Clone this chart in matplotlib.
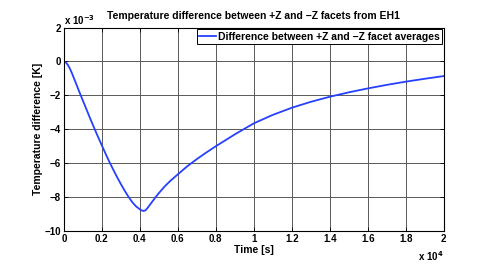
import matplotlib.pyplot as plt
import numpy as np

# time in seconds, temperature difference in kelvin
time_s = [0, 100, 200, 300, 400, 500, 600, 800, 1000, 1200, 1400, 1600,
          1800, 2000, 2200, 2400, 2600, 2800, 3000, 3200, 3400, 3600, 3800,
          4000, 4100, 4200, 4300, 4400, 4600, 4800, 5000, 5300, 5600, 6000,
          6500, 7000, 7500, 8000, 9000, 10000, 11000, 12000, 13000, 14000,
          15000, 16000, 17000, 18000, 19000, 20000]
diff_K = [0.0, -0.00005, -0.00018, -0.00038, -0.00062, -0.0009, -0.00118,
          -0.00175, -0.0023, -0.00285, -0.0034, -0.00393, -0.00445,
          -0.00495, -0.00545, -0.00593, -0.00638, -0.00682, -0.00723,
          -0.00762, -0.00798, -0.0083, -0.00855, -0.00872, -0.00879,
          -0.00882, -0.00878, -0.00865, -0.00835, -0.00805, -0.00777,
          -0.00738, -0.00705, -0.00666, -0.00618, -0.00576, -0.00537,
          -0.005, -0.0043, -0.00365, -0.00315, -0.00273, -0.00238, -0.00208,
          -0.00182, -0.00159, -0.00138, -0.00119, -0.00102, -0.00086]

xticks = [0, 0.2, 0.4, 0.6, 0.8, 1, 1.2, 1.4, 1.6, 1.8, 2]
yticks = [-10, -8, -6, -4, -2, 0, 2]

plt.rcParams['font.family'] = ['Liberation Sans', 'DejaVu Sans']
plt.rcParams['font.weight'] = 'bold'

fig = plt.figure(figsize=(4.91, 2.73), dpi=100)
ax = fig.add_axes([0.130, 0.154, 0.774, 0.745])

x = np.array(time_s) / 1e4
y = np.array(diff_K) * 1e3
ax.plot(x, y, color=(0.15, 0.25, 1.0), lw=1.3,
        label="Difference between +Z and \u2212Z facet averages")

ax.set_xlim(0, 2)
ax.set_ylim(-10, 2)
ax.set_xticks(xticks)
ax.set_xticklabels(["0", "0.2", "0.4", "0.6", "0.8", "1", "1.2", "1.4",
                    "1.6", "1.8", "2"])
ax.set_yticks(yticks)
ax.set_yticklabels(["\u221210", "\u22128", "\u22126", "\u22124", "\u22122",
                    "0", "2"])
ax.tick_params(direction='in', labelsize=7, length=3, width=0.6, pad=2,
               top=True, right=True)
ax.grid(True, color='0.35', lw=0.7)
for s in ax.spines.values():
    s.set_linewidth(0.8)

ax.set_title("Temperature difference between +Z and \u2212Z facets from EH1",
             fontsize=7.5, fontweight='bold', pad=6)
ax.set_xlabel("Time [s]", fontsize=7.5, fontweight='bold', labelpad=1)
ax.set_ylabel("Temperature difference [K]", fontsize=7.5, fontweight='bold',
              labelpad=1)

ax.text(0.0, 1.005, "x 10$^{\\mathbf{-3}}$", transform=ax.transAxes,
        fontsize=7, ha='left', va='bottom')
ax.text(1.0, -0.125, "x 10$^{\\mathbf{4}}$", transform=ax.transAxes,
        fontsize=7, ha='right', va='center')

leg = ax.legend(loc='upper right', fontsize=7.5, handlelength=1.6,
                borderpad=0.25, borderaxespad=0.15, fancybox=False,
                framealpha=1, handletextpad=0.2)
leg.get_frame().set_edgecolor('black')
leg.get_frame().set_linewidth(0.7)

fig.savefig("out.png", dpi=100)
